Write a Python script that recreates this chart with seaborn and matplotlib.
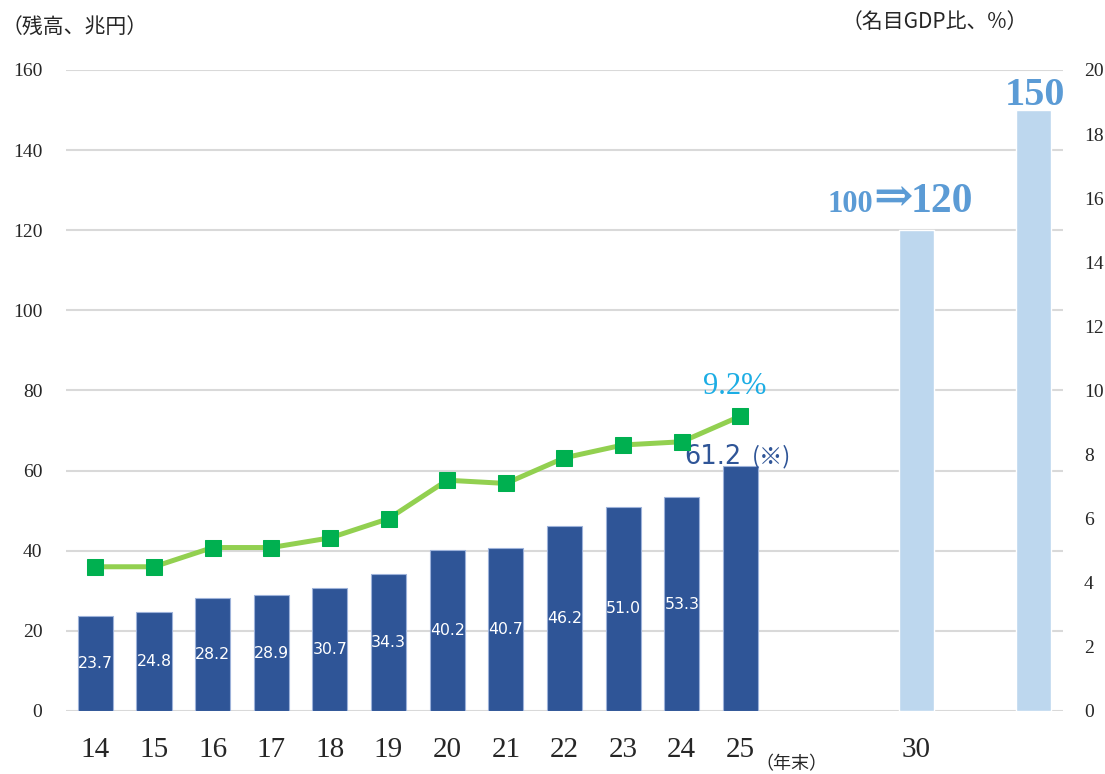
import numpy as np
import pandas as pd
import matplotlib
matplotlib.use("Agg")
import matplotlib.pyplot as plt
import seaborn as sns

# data
years = ["14", "15", "16", "17", "18", "19", "20", "21", "22", "23", "24", "25"]
debt = [23.7, 24.8, 28.2, 28.9, 30.7, 34.3, 40.2, 40.7, 46.2, 51.0, 53.3, 61.2]
gdp_ratio = [4.5, 4.5, 5.1, 5.1, 5.4, 6.0, 7.2, 7.1, 7.9, 8.3, 8.4, 9.2]
target_keys = ["30", "goal"]
target_values = [120, 150]
slot_order = years + ["gap1", "gap2", "30", "gap3", "goal"]
tick_labels = years + ["", "", "30", "", ""]

DARK = "#2F5597"
LIGHT = "#BDD7EE"
TARGET_TXT = "#5B9BD5"

sns.set_style("white")
plt.rcParams["font.family"] = ["Liberation Serif", "Noto Sans CJK JP", "DejaVu Sans"]
CJK = ["Noto Sans CJK JP", "DejaVu Sans"]

df = pd.DataFrame({
    "slot": years + target_keys,
    "value": debt + target_values,
    "kind": ["actual"] * len(years) + ["target"] * len(target_keys),
})

fig, ax = plt.subplots(figsize=(11.05, 7.74), dpi=100)
fig.subplots_adjust(left=0.0597, right=0.962, bottom=0.0814, top=0.9096)

sns.barplot(data=df, x="slot", y="value", hue="kind", order=slot_order,
            palette={"actual": DARK, "target": LIGHT}, dodge=False, width=0.6,
            saturation=1, legend=False, ax=ax)
for p in ax.containers[0]:
    p.set_edgecolor("#9DB2DA")
    p.set_linewidth(0.8)

ax.set_ylim(0, 160)
ax.set_yticks(np.arange(0, 161, 20))
ax.set_xlim(-0.5, len(slot_order) - 0.5)
ax.set_xticks(range(len(slot_order)))
ax.set_xticklabels(tick_labels, fontsize=21)
ax.set_xlabel("")
ax.set_ylabel("")
ax.tick_params(axis="x", length=0, pad=19)
ax.tick_params(axis="y", length=0, pad=17, labelsize=14)
ax.yaxis.grid(True, color="#D9D9D9", lw=1.5)
ax.set_axisbelow(True)
sns.despine(ax=ax, left=True, bottom=True)

# value labels inside the bars
pos = [slot_order.index(y) for y in years]
for x, v in zip(pos[:-1], debt[:-1]):
    ax.text(x, v / 2, f"{v:.1f}", ha="center", va="center", color="white",
            fontsize=11.3, family="DejaVu Sans")
ax.annotate(f"{debt[-1]:.1f}", xy=(pos[-1], debt[-1]), xytext=(1, 1.5),
            textcoords="offset points", ha="right", va="baseline",
            color=DARK, fontsize=18.5, family="DejaVu Sans")
ax.annotate("(※)", xy=(pos[-1], debt[-1]), xytext=(8, 1.5),
            textcoords="offset points", ha="left", va="baseline",
            color=DARK, fontsize=17, family=CJK)

# targets
t1 = slot_order.index(target_keys[0])
t2 = slot_order.index(target_keys[1])
ax.annotate("100", xy=(t1, target_values[0]), xytext=(-31.5, 13),
            textcoords="offset points", ha="right", va="baseline",
            color=TARGET_TXT, fontsize=22, fontweight="bold")
ax.annotate("⇒", xy=(t1, target_values[0]), xytext=(-31, 14),
            textcoords="offset points", ha="left", va="baseline",
            color=TARGET_TXT, fontsize=34, fontweight="bold",
            family=["DejaVu Serif"])
ax.annotate("120", xy=(t1, target_values[0]), xytext=(-4.5, 13),
            textcoords="offset points", ha="left", va="baseline",
            color=TARGET_TXT, fontsize=30, fontweight="bold")
ax.annotate(str(target_values[1]), xy=(t2, target_values[1]), xytext=(1, 3.5),
            textcoords="offset points", ha="center", va="baseline",
            color=TARGET_TXT, fontsize=29, fontweight="bold")

# GDP ratio line on the right axis
ax2 = ax.twinx()
sns.lineplot(x=pos, y=gdp_ratio, ax=ax2, color="#92D050", lw=3.6, marker="s",
             markersize=11.5, markerfacecolor="#00B050", markeredgecolor="#00B050")
ax2.set_ylim(0, 20)
ax2.set_yticks(np.arange(0, 21, 2))
ax2.set_xlim(-0.5, len(slot_order) - 0.5)
ax2.tick_params(axis="y", length=0, pad=15, labelsize=14)
ax2.grid(False)
sns.despine(ax=ax2, left=True, right=True, bottom=True)
ax2.annotate(f"{gdp_ratio[-1]}%", xy=(pos[-1], gdp_ratio[-1]), xytext=(-4, 16),
             textcoords="offset points", ha="center", va="baseline",
             color="#1CADE4", fontsize=22)

fig.text(0.001, 1 - 27 / 774, "（残高、兆円）", family=CJK, fontsize=15, va="center")
fig.text(842 / 1105, 1 - 22 / 774, "（名目GDP比、%）", family=CJK, fontsize=15, va="center")
fig.text(791 / 1105, 1 - 764 / 774, "（年末）", family=CJK, fontsize=13,
         ha="center", va="center")

fig.savefig("out.png", dpi=100)
